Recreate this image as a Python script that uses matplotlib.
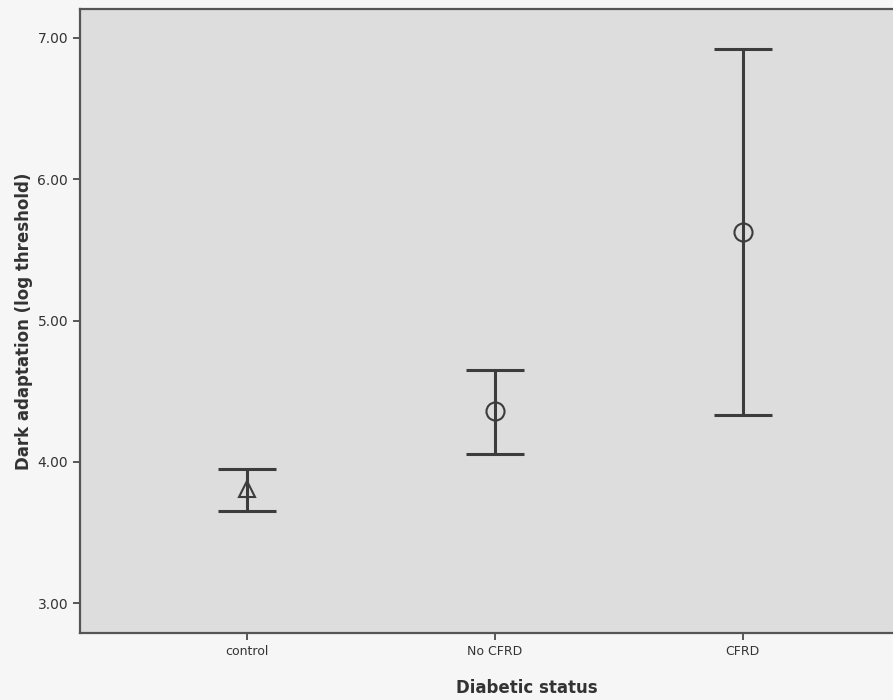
import numpy as np
import matplotlib.pyplot as plt

# diabetic status groups, mean and 95% CI of dark adaptation
groups = ['control', 'No CFRD', 'CFRD']
means = [3.81, 4.36, 5.63]
lower = [3.65, 4.06, 4.33]
upper = [3.95, 4.65, 6.92]
markers = ['^', 'o', 'o']

yticks = [3.0, 4.0, 5.0, 6.0, 7.0]

line_col = '#3c3c3c'

fig = plt.figure(figsize=(8.93, 7.0), dpi=100, facecolor='#f6f6f6')
ax = fig.add_axes([80 / 893, 1 - 633 / 700, 1.0, 624 / 700])
ax.set_facecolor('#dddddd')

x = np.arange(1, len(groups) + 1)
for xi, m, lo, hi, mk in zip(x, means, lower, upper, markers):
    ax.errorbar(xi, m, yerr=[[m - lo], [hi - m]], fmt='none',
                ecolor=line_col, elinewidth=2.2, capsize=21, capthick=2.2)
    ax.plot(xi, m, marker=mk, markersize=13 if mk == 'o' else 11,
            markerfacecolor='none', markeredgecolor=line_col,
            markeredgewidth=1.5, linestyle='none')

# axes run past the right edge of the figure, as in the original scan
ax.set_xlim(0.327, 3.93)
ax.set_ylim(2.79, 7.205)
ax.set_xticks(x)
ax.set_xticklabels(groups, fontsize=9, color='#333333')
ax.set_yticks(yticks)
ax.set_yticklabels(['%.2f' % t for t in yticks], fontsize=10, color='#333333')
ax.tick_params(axis='both', direction='out', length=5, width=1.2, color=line_col)

for s in ax.spines.values():
    s.set_color('#555555')
    s.set_linewidth(1.6)

ax.set_ylabel('Dark adaptation (log threshold)', fontsize=12, fontweight='bold',
              color='#333333', labelpad=3)
ax.set_xlabel('Diabetic status', fontsize=12, fontweight='bold',
              color='#333333', labelpad=15)

fig.savefig('out.png', dpi=100, facecolor=fig.get_facecolor())
